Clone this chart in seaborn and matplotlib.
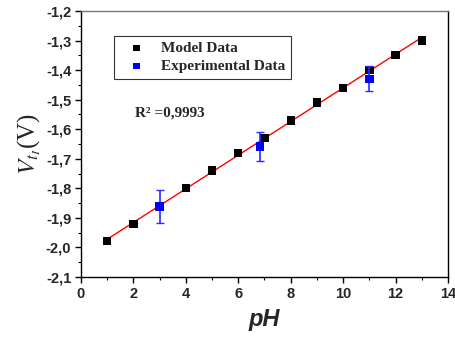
import matplotlib
matplotlib.use("Agg")
import matplotlib.pyplot as plt
import seaborn as sns
import pandas as pd
from matplotlib.ticker import MultipleLocator, FuncFormatter

# data
model_ph = [1, 2, 3, 4, 5, 6, 7, 8, 9, 10, 11, 12, 13]
model_vt = [-1.978, -1.92, -1.862, -1.80, -1.74, -1.68, -1.63, -1.57, -1.51, -1.46, -1.40, -1.35, -1.30]
exp_ph = [3, 6.83, 11]
exp_vt = [-1.862, -1.659, -1.429]
exp_err = [0.055, 0.05, 0.043]
r2_text = "R² =0,9993"

df_model = pd.DataFrame({"pH": model_ph, "Vt": model_vt})
df_exp = pd.DataFrame({"pH": exp_ph, "Vt": exp_vt, "err": exp_err})

sns.set_theme(style="white")
plt.rcParams['font.family'] = ['Liberation Sans', 'DejaVu Sans']
plt.rcParams['mathtext.fontset'] = 'stix'

fig = plt.figure(figsize=(4.56, 3.4), dpi=100)
ax = fig.add_axes([81 / 456, 63 / 340, 367 / 456, 266 / 340])

# linear fit line
sns.regplot(data=df_model, x="pH", y="Vt", scatter=False, ci=None,
            color="red", line_kws={"lw": 1}, ax=ax)

sns.scatterplot(data=df_model, x="pH", y="Vt", marker="s", color="black",
                s=36, edgecolor="none", label="Model Data", ax=ax, zorder=3)

ax.errorbar(df_exp["pH"], df_exp["Vt"], yerr=df_exp["err"], fmt="none",
            ecolor="#2a2aff", elinewidth=1.2, capsize=3, capthick=1, zorder=4)
sns.scatterplot(data=df_exp, x="pH", y="Vt", marker="s", color="#0000ff",
                s=36, edgecolor="none", label="Experimental Data", ax=ax, zorder=5)

ax.set_xlim(0, 14)
ax.set_ylim(-2.1, -1.2)
ax.xaxis.set_major_locator(MultipleLocator(2))
ax.xaxis.set_minor_locator(MultipleLocator(1))
ax.yaxis.set_major_locator(MultipleLocator(0.1))
ax.yaxis.set_minor_locator(MultipleLocator(0.05))
ax.yaxis.set_major_formatter(FuncFormatter(lambda v, p: f"{v:.1f}".replace(".", ",")))
ax.xaxis.set_major_formatter(FuncFormatter(lambda v, p: f"{v:.0f}"))

ax.tick_params(which="both", direction="out", bottom=True, left=True, color="black")
ax.tick_params(which="major", length=4, width=1, labelsize=10.5, pad=3)
ax.tick_params(which="minor", length=2.5, width=0.8)
for lab in ax.get_xticklabels() + ax.get_yticklabels():
    lab.set_fontweight("bold")

ax.set_xlabel("pH", fontsize=17, fontweight="bold", style="italic", labelpad=5)
ax.set_ylabel(r"$V_{t_I}$(V)", fontsize=18, family="Liberation Serif", labelpad=2)

for side in ["left", "bottom", "right"]:
    ax.spines[side].set_color("black")
    ax.spines[side].set_linewidth(1)
ax.spines["top"].set_color("#777777")
ax.spines["top"].set_linewidth(1)

leg = ax.legend(loc="upper left", bbox_to_anchor=(0.07, 0.935), frameon=True,
                fancybox=False, edgecolor="black", markerscale=0.75,
                prop={"family": "Liberation Serif", "weight": "bold", "size": 11},
                handletextpad=0.5, borderpad=0.35, labelspacing=0.3,
                handlelength=2.2)
leg.get_frame().set_linewidth(0.8)

ax.text(0.147, 0.615, r2_text, transform=ax.transAxes, fontsize=11,
        family="Liberation Serif", fontweight="bold", va="center")

ax.grid(False)
fig.savefig("out.png", dpi=100)
